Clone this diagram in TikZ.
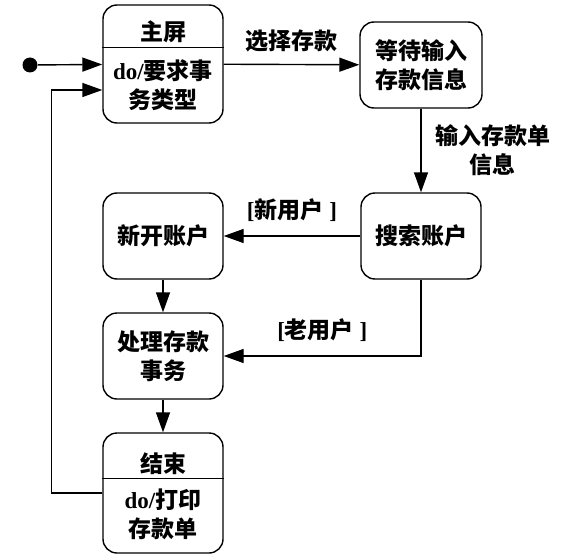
\documentclass[tikz,border=0pt]{standalone}
\usepackage{fontspec}
\setmainfont{Liberation Serif}
\newfontfamily\cjk{Noto Sans CJK SC}
\usetikzlibrary{arrows.meta}

\begin{document}
\begin{tikzpicture}[x=1pt, y=-1pt, line width=1.4pt,
		state/.style={draw, rounded corners=14pt, minimum width=120pt, minimum height=86pt, align=center, inner sep=0pt},
		arr/.style={-{Triangle[length=20pt, width=14pt]}},
		txt/.style={font=\fontsize{23}{29}\selectfont\bfseries, align=center}]
		\useasboundingbox (0,0) rectangle (575,559);

		\node[circle, fill, inner sep=0pt, minimum size=15pt] (start) at (30,65) {};

		\node[state, minimum height=118pt] (home) at (163,64) {};
		\draw ([yshift=-43pt]home.north west) -- ([yshift=-43pt]home.north east);
		\node[txt] (hometitle) at (163,32) {\cjk 主屏};
		\node[txt] (homedo) at (163,85) {do/{\cjk 要求事}\\{\cjk 务类型}};

		\node[state, txt, minimum width=122pt] (wait) at (421,65) {\cjk 等待输入\\\cjk 存款信息};
		\node[state, txt] (search) at (421,236) {\cjk 搜索账户};
		\node[state, txt] (newacct) at (163,236) {\cjk 新开账户};
		\node[state, txt] (process) at (163,356) {\cjk 处理存款\\\cjk 事务};

		\node[state, minimum height=120pt] (finish) at (163,493) {};
		\draw ([yshift=-46pt]finish.north west) -- ([yshift=-46pt]finish.north east);
		\node[txt] (finishtitle) at (163,464) {\cjk 结束};
		\node[txt] (finishdo) at (163,514) {do/{\cjk 打印}\\{\cjk 存款单}};

		\draw[arr] (start) -- (home);
		\draw[arr] (finish.west) -- ++(-51,0) |- ([yshift=-26pt]home.west);
		\draw[arr] (home) -- node[txt, above=8pt] {\cjk 选择存款} (wait);
		\draw[arr] (wait) -- node[txt, right=10pt] {\cjk 输入存款单\\\cjk 信息} (search);
		\draw[arr] (search) -- node[txt, above=10pt] {[{\cjk 新用户} ]} (newacct);
		\draw[arr] (newacct) -- (process);
		\draw[arr] (search) |- node[txt, pos=0.75, above=10pt] {[{\cjk 老用户} ]} (process);
		\draw[arr] (process) -- (finish);
	\end{tikzpicture}
\end{document}
